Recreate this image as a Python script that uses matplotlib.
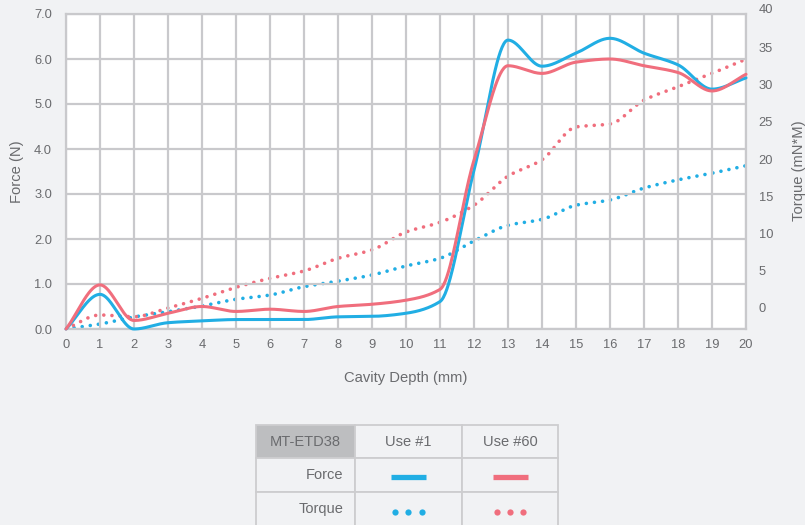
import numpy as np
import matplotlib
matplotlib.use("Agg")
import matplotlib.pyplot as plt
from matplotlib.patches import Rectangle
from matplotlib.lines import Line2D

plt.rcParams['font.family'] = ['Liberation Sans', 'DejaVu Sans']

# ---- data ----
depth = list(range(0, 21))
force_use1 = [0.0, 0.77, 0.0, 0.14, 0.18, 0.21, 0.21, 0.21, 0.27, 0.28, 0.35, 0.61,
              3.53, 6.42, 5.84, 6.13, 6.46, 6.13, 5.87, 5.33, 5.58]
force_use60 = [0.0, 0.98, 0.19, 0.35, 0.50, 0.39, 0.44, 0.39, 0.50, 0.55, 0.64, 0.88,
               3.75, 5.85, 5.68, 5.93, 6.00, 5.85, 5.70, 5.29, 5.66]
torque_use1 = [-2.8, -2.15, -1.2, -0.5, 0.27, 1.17, 1.74, 2.86, 3.6, 4.43, 5.64, 6.67,
               9.0, 11.1, 11.9, 13.8, 14.5, 16.1, 17.2, 18.1, 19.1]
torque_use60 = [-2.8, -0.94, -1.17, 0.0, 1.3, 2.78, 3.98, 4.97, 6.67, 7.8, 10.2, 11.5,
                13.8, 17.7, 19.9, 24.3, 24.7, 27.9, 29.7, 31.5, 33.4]
force_ticks = [0, 1, 2, 3, 4, 5, 6, 7]
torque_ticks = [0, 5, 10, 15, 20, 25, 30, 35, 40]
table_header = ["MT-ETD38", "Use #1", "Use #60"]
table_rows = ["Force", "Torque"]

BLUE = '#21aee4'
RED = '#f06e7d'
GRID = '#c9c9cc'
TXT = '#6a6b6e'
BG = '#f1f2f4'


def smooth(x, y, n=40):
    """Monotone cubic Hermite (Fritsch-Carlson) curve through the points."""
    x = np.asarray(x, float)
    y = np.asarray(y, float)
    h = np.diff(x)
    d = np.diff(y) / h
    m = np.zeros_like(y)
    m[0], m[-1] = d[0], d[-1]
    for i in range(1, len(y) - 1):
        if d[i - 1] * d[i] <= 0:
            m[i] = 0.0
        else:
            w1 = 2 * h[i] + h[i - 1]
            w2 = h[i] + 2 * h[i - 1]
            m[i] = (w1 + w2) / (w1 / d[i - 1] + w2 / d[i])
    xs, ys = [], []
    t = np.linspace(0, 1, n, endpoint=False)
    for i in range(len(x) - 1):
        h00 = 2 * t ** 3 - 3 * t ** 2 + 1
        h10 = t ** 3 - 2 * t ** 2 + t
        h01 = -2 * t ** 3 + 3 * t ** 2
        h11 = t ** 3 - t ** 2
        xs.extend(x[i] + t * h[i])
        ys.extend(h00 * y[i] + h10 * h[i] * m[i] + h01 * y[i + 1] + h11 * h[i] * m[i + 1])
    xs.append(x[-1])
    ys.append(y[-1])
    return np.array(xs), np.array(ys)


fig = plt.figure(figsize=(8.05, 5.25), dpi=100)
fig.patch.set_facecolor(BG)

W, H = 805, 525
L, R, T, B = 66, 746, 14, 329
ax = fig.add_axes([L / W, 1 - B / H, (R - L) / W, (B - T) / H])
ax.set_xlim(0, 20)
ax.set_ylim(0, 7)
ax.set_xticks(depth)
ax.set_yticks(force_ticks)
ax.set_yticklabels([f"{v:.1f}" for v in force_ticks])
ax.grid(True, color=GRID, lw=1.6)
for s in ax.spines.values():
    s.set_color(GRID)
    s.set_linewidth(1.6)
ax.tick_params(length=0, labelsize=9.3, labelcolor=TXT)
ax.tick_params(axis='y', pad=10)
ax.tick_params(axis='x', pad=7)

ax2 = ax.twinx()
# 0 torque at y px 308, 7.45 px per unit
ppu = 7.45
ax2.set_ylim(-(B - 308) / ppu, (308 - T) / ppu)
ax2.set_yticks([t for t in torque_ticks if t <= 39])
ax2.tick_params(length=0, labelsize=9.3, labelcolor=TXT, pad=9)
for s in ax2.spines.values():
    s.set_visible(False)
ax2.text(1 + 13 / (R - L), 40, "40", transform=ax2.get_yaxis_transform(), fontsize=9.3,
         color=TXT, ha='left', va='center', clip_on=False)

# torque dotted
for yv, c in ((torque_use1, BLUE), (torque_use60, RED)):
    sx, sy = smooth(depth, yv)
    ax2.plot(sx, sy, color=c, lw=2.6, linestyle=(0, (0.01, 2.25)),
             dash_capstyle='round', zorder=3)

# force solid
for yv, c in ((force_use1, BLUE), (force_use60, RED)):
    sx, sy = smooth(depth, yv)
    ax.plot(sx, sy, color=c, lw=2.2, solid_capstyle='round', zorder=4, clip_on=False)
ax.set_zorder(ax2.get_zorder() + 1)
ax.patch.set_visible(False)
ax2.patch.set_visible(True)
ax2.patch.set_facecolor('white')

fig.text(17.5 / W, 1 - 171.5 / H, "Force (N)", rotation=90, ha='center', va='center',
         fontsize=10.6, color=TXT)
fig.text(406 / W, 1 - 378 / H, "Cavity Depth (mm)", ha='center', va='center',
         fontsize=10.6, color=TXT)
fig.text(799 / W, 1 - 171 / H, "Torque (mN*M)", rotation=90, ha='center', va='center',
         fontsize=10.6, color=TXT)

# ---- legend table ----
cols = [256, 355, 462, 558]
rows = [425, 458, 492, 526]
for ri in range(3):
    for ci in range(3):
        x0, x1 = cols[ci], cols[ci + 1]
        y0, y1 = rows[ri], rows[ri + 1]
        fc = '#bdbec0' if (ri == 0 and ci == 0) else BG
        fig.patches.append(Rectangle((x0 / W, 1 - y1 / H), (x1 - x0) / W, (y1 - y0) / H,
                                     transform=fig.transFigure, facecolor=fc,
                                     edgecolor='#cdcdcf', lw=1.3))
for ci, lab in enumerate(table_header):
    fig.text((cols[ci] + cols[ci + 1]) / 2 / W, 1 - 441.5 / H, lab, ha='center',
             va='center', fontsize=10.5, color=TXT)
for ri, lab in enumerate(table_rows):
    fig.text(343 / W, 1 - (rows[ri + 1] + rows[ri + 2]) / 2 / H, lab, ha='right',
             va='center', fontsize=10.5, color=TXT)
for c, (a, b) in ((BLUE, (391, 425.5)), (RED, (493, 527.5))):
    fig.lines.append(Line2D([a / W, b / W], [1 - 477 / H] * 2, transform=fig.transFigure,
                            color=c, lw=3.8, solid_capstyle='butt'))
for c, xs in ((BLUE, (395, 408.3, 421.7)), (RED, (496.7, 510, 523.3))):
    fig.lines.append(Line2D([x / W for x in xs], [1 - 511.7 / H] * 3,
                            transform=fig.transFigure, color=c, lw=0, marker='o',
                            markersize=4.5, markeredgewidth=0))

fig.savefig("out.png", dpi=100, facecolor=BG)
